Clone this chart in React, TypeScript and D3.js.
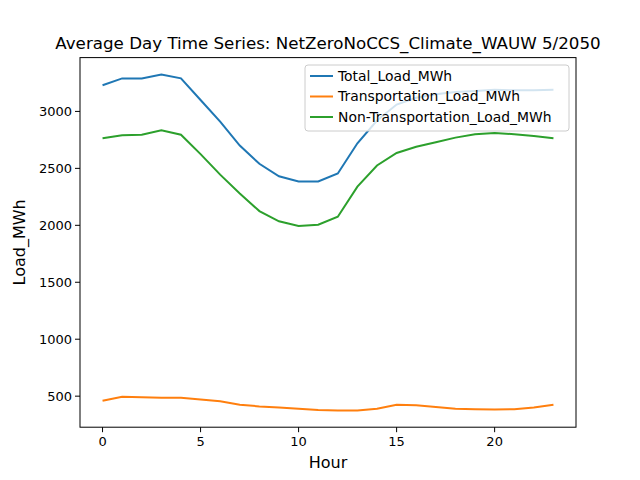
import React from "react";
import * as d3 from "d3";

const hours = d3.range(24);
const totalLoad = [3230, 3290, 3290, 3325, 3290, 3100, 2910, 2700, 2540, 2430, 2385, 2385, 2455, 2720, 2920, 3060, 3120, 3150, 3170, 3180, 3190, 3185, 3185, 3190];
const transportLoad = [460, 495, 490, 485, 487, 470, 455, 425, 410, 400, 390, 378, 375, 375, 390, 425, 420, 405, 390, 385, 383, 385, 400, 425];
const nonTransportLoad = [2765, 2790, 2795, 2835, 2795, 2625, 2445, 2280, 2125, 2035, 1995, 2005, 2075, 2340, 2525, 2635, 2690, 2730, 2770, 2800, 2810, 2800, 2785, 2765];
const seriesNames = ["Total_Load_MWh", "Transportation_Load_MWh", "Non-Transportation_Load_MWh"];
const colors = ["#1f77b4", "#ff7f0e", "#2ca02c"];
const xTicks = [0, 5, 10, 15, 20];
const yTicks = [500, 1000, 1500, 2000, 2500, 3000];

export default function App() {
  const W = 640, H = 480;
  const L = 80, R = 576, T = 57.6, B = 427.2;
  const series = [totalLoad, transportLoad, nonTransportLoad];
  const all = series.flat();
  const lo = d3.min(all)!, hi = d3.max(all)!;
  const pad = (hi - lo) * 0.05;
  const x = d3.scaleLinear().domain([-23 * 0.05, 23 * 1.05]).range([L, R]);
  const y = d3.scaleLinear().domain([lo - pad, hi + pad]).range([B, T]);
  const line = d3.line<number>().x((_, i) => x(hours[i])).y(d => y(d));
  const font = "DejaVu Sans, sans-serif";
  return (
    <svg width={W} height={H} style={{ position: "absolute", left: 0, top: 0, background: "#fff" }} fontFamily={font}>
      <text x={(L + R) / 2} y={49} textAnchor="middle" fontSize={16.7}>Average Day Time Series: NetZeroNoCCS_Climate_WAUW 5/2050</text>
      {series.map((s, i) => (
        <path key={i} d={line(s)!} fill="none" stroke={colors[i]} strokeWidth={2} />
      ))}
      <rect x={L} y={T} width={R - L} height={B - T} fill="none" stroke="#000" strokeWidth={1} />
      {xTicks.map(t => (
        <g key={t} transform={`translate(${x(t)},${B})`}>
          <line y2={5} stroke="#000" />
          <text y={19} textAnchor="middle" fontSize={13}>{t}</text>
        </g>
      ))}
      {yTicks.map(t => (
        <g key={t} transform={`translate(${L},${y(t)})`}>
          <line x2={-5} stroke="#000" />
          <text x={-8} dy="0.35em" textAnchor="end" fontSize={13}>{t}</text>
        </g>
      ))}
      <text x={(L + R) / 2} y={468} textAnchor="middle" fontSize={16}>Hour</text>
      <text transform={`translate(25,${(T + B) / 2}) rotate(-90)`} textAnchor="middle" fontSize={16}>Load_MWh</text>
      <g transform="translate(305,65)">
        <rect width={264} height={66} rx={3} fill="#fff" fillOpacity={0.8} stroke="#ccc" />
        {seriesNames.map((n, i) => (
          <g key={n} transform={`translate(0,${11 + i * 20.5})`}>
            <line x1={5} x2={28} stroke={colors[i]} strokeWidth={2} />
            <text x={33} dy="0.35em" fontSize={13.9}>{n}</text>
          </g>
        ))}
      </g>
    </svg>
  );
}
